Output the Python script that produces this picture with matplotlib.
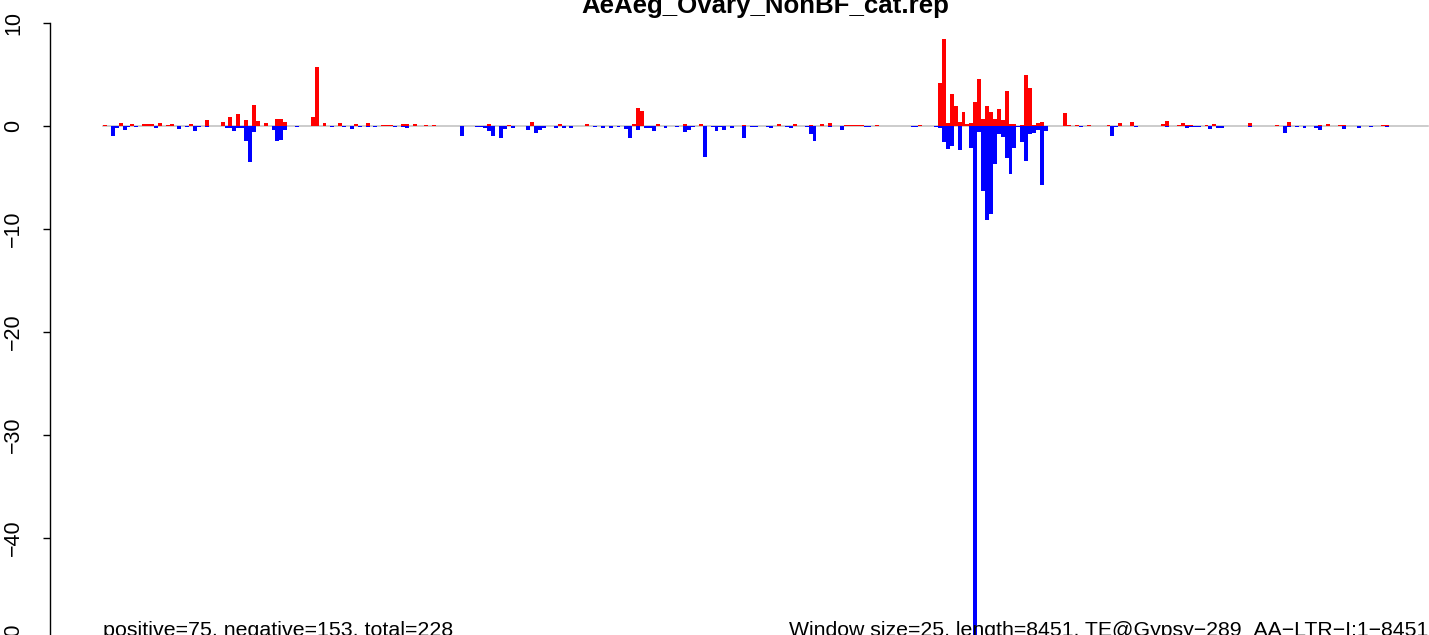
import numpy as np
import matplotlib
matplotlib.use('Agg')
import matplotlib.pyplot as plt
from matplotlib.transforms import blended_transform_factory

plt.rcParams['font.family'] = ['Liberation Sans', 'DejaVu Sans']

#####
# data: signal per 25 bp window along the TE (length 8451 -> 338 windows)
n_win = 338
title = 'AeAeg_Ovary_NonBF_cat.rep'
left_note = 'positive=75, negative=153, total=228'
right_note = 'Window size=25, length=8451, TE@Gypsy\u2212289_AA\u2212LTR\u2212I:1\u22128451'
yticks = [10, 0, -10, -20, -30, -40, -50]

# positive strand (red), window index -> value
pos_idx = [0, 4, 7, 10, 11, 12, 14, 16, 17, 22, 26, 30, 32, 34, 36, 38, 39, 41,
           44, 45, 46, 53, 54, 56, 60, 64, 67, 71, 72, 73, 76, 77, 79, 82, 84,
           98, 103, 109, 116, 123, 135, 136, 137, 141, 148, 152, 163, 172, 176,
           180, 183, 185, 189, 190, 191, 192, 193, 197, 208, 213, 214, 215, 216,
           217, 218, 219, 220, 221, 222, 223, 224, 225, 226, 227, 228, 229, 230,
           231, 232, 234, 235, 236, 237, 238, 239, 245, 246, 248, 251, 256, 259,
           262, 270, 271, 274, 275, 276, 277, 281, 283, 292, 299, 302, 310, 312,
           315, 316, 326, 327]
pos_val = [0.07, 0.26, 0.16, 0.16, 0.16, 0.16, 0.26, 0.07, 0.16, 0.16, 0.55, 0.36,
           0.84, 1.13, 0.55, 2.0, 0.45, 0.26, 0.65, 0.65, 0.36, 0.84, 5.73, 0.26,
           0.26, 0.16, 0.26, 0.05, 0.05, 0.05, 0.16, 0.16, 0.16, 0.05, 0.05, 0.16,
           0.05, 0.36, 0.16, 0.16, 0.16, 1.72, 1.42, 0.16, 0.16, 0.16, 0.05, 0.16,
           0.16, 0.05, 0.16, 0.26, 0.05, 0.05, 0.05, 0.05, 0.05, 0.05, 0.05, 4.17,
           8.4, 0.26, 3.1, 1.9, 0.36, 1.33, 0.16, 0.26, 2.3, 4.53, 0.65, 1.9, 1.33,
           0.65, 1.62, 0.55, 3.37, 0.16, 0.16, 0.07, 4.9, 3.66, 0.05, 0.26, 0.36,
           1.23, 0.05, 0.05, 0.05, 0.05, 0.26, 0.36, 0.16, 0.45, 0.05, 0.26, 0.05,
           0.05, 0.05, 0.16, 0.26, 0.05, 0.36, 0.05, 0.16, 0.05, 0.05, 0.05, 0.05]

# negative strand (blue)
neg_idx = [2, 3, 5, 6, 8, 13, 19, 21, 23, 24, 26, 31, 32, 33, 34, 35, 36, 37, 38,
           43, 44, 45, 46, 49, 58, 61, 63, 65, 67, 69, 70, 74, 76, 77, 88, 91, 92,
           93, 95, 96, 97, 98, 99, 100, 101, 102, 104, 108, 110, 111, 112, 113,
           114, 115, 117, 119, 125, 127, 129, 131, 133, 134, 136, 138, 139, 140,
           143, 146, 148, 149, 150, 153, 155, 156, 157, 158, 160, 163, 165, 166,
           169, 170, 174, 175, 178, 179, 180, 181, 185, 188, 194, 195, 202, 206,
           207, 210, 211, 212, 213, 214, 215, 216, 218, 221, 222, 223, 224, 225,
           226, 227, 228, 229, 230, 231, 232, 233, 234, 235, 236, 237, 238, 239,
           240, 243, 249, 257, 258, 263, 265, 268, 271, 276, 277, 278, 279, 282,
           284, 285, 289, 292, 293, 295, 300, 301, 302, 304, 305, 306, 308, 309,
           310, 313, 316, 318, 320, 321, 323, 327]
neg_val = [-1.0, -0.2, -0.42, -0.1, -0.08, -0.22, -0.32, -0.15, -0.5, -0.15, -0.08,
           -0.2, -0.2, -0.5, -0.2, -0.2, -1.45, -3.5, -0.6, -0.4, -1.45, -1.35,
           -0.4, -0.1, -0.1, -0.08, -0.32, -0.1, -0.1, -0.15, -0.05, -0.15, -0.15,
           -0.22, -0.05, -1.0, -0.05, -0.05, -0.1, -0.08, -0.22, -0.5, -1.0, -0.05,
           -1.2, -0.32, -0.2, -0.42, -0.7, -0.42, -0.2, -0.05, -0.05, -0.2, -0.2,
           -0.2, -0.1, -0.2, -0.2, -0.08, -0.3, -1.2, -0.4, -0.2, -0.2, -0.5, -0.2,
           -0.1, -0.6, -0.4, -0.15, -3.0, -0.1, -0.5, -0.1, -0.4, -0.2, -1.2, -0.1,
           -0.15, -0.1, -0.2, -0.1, -0.2, -0.05, -0.1, -0.78, -1.45, -0.1, -0.42,
           -0.1, -0.1, -0.05, -0.1, -0.08, -0.05, -0.05, -0.1, -0.2, -1.55, -2.23,
           -1.94, -2.33, -2.14, -52.0, -0.6, -6.3, -9.2, -8.6, -3.7, -0.78, -1.07,
           -3.1, -4.66, -2.14, -0.1, -1.55, -3.4, -0.78, -0.68, -0.39, -5.73, -0.5,
           -0.05, -0.1, -1.0, -0.1, -0.15, -0.05, -0.05, -0.1, -0.2, -0.1, -0.1,
           -0.1, -0.3, -0.2, -0.2, -0.05, -0.1, -0.05, -0.05, -0.05, -0.68, -0.1,
           -0.13, -0.05, -0.2, -0.05, -0.2, -0.4, -0.05, -0.3, -0.05, -0.2, -0.05,
           -0.1, -0.1]

pos = np.zeros(n_win)
pos[pos_idx] = pos_val
neg = np.zeros(n_win)
neg[neg_idx] = neg_val
win = np.arange(n_win)

#####
# plot (R barplot look)
W, H = 1429, 635
fig = plt.figure(figsize=(W / 100, H / 100), dpi=100)
ax = fig.add_axes([50 / W, -0.1063, 1431 / W, 1.0868])
ax.set_xlim(-0.04 * n_win, n_win * 1.04)
ax.set_ylim(-56, 11)

ax.plot([0, n_win], [0, 0], color='#BEBEBE', lw=1.1, zorder=1)
ax.bar(win, pos, width=1, align='edge', color='#FF0000', lw=0, zorder=2)
ax.bar(win, neg, width=1, align='edge', color='#0000FF', lw=0, zorder=2)

for s in ['top', 'right', 'bottom']:
    ax.spines[s].set_visible(False)
ax.spines['left'].set_bounds(-50, 10)
ax.spines['left'].set_linewidth(1.0)
ax.set_xticks([])
ax.set_yticks(yticks)
ax.set_yticklabels([str(t).replace('-', '\u2212') for t in yticks],
                   rotation=90, va='center', fontsize=15.5)
ax.tick_params(axis='y', length=5, width=1.0, pad=13.5)

tr = blended_transform_factory(ax.transData, fig.transFigure)
ax.text(n_win * 0.5, 1 - 13 / H, title, transform=tr, ha='center',
        va='baseline', fontsize=18.6, fontweight='bold', clip_on=False)
ax.text(0, -1 / H, left_note, transform=tr, ha='left', va='baseline',
        fontsize=15.4, clip_on=False)
ax.text(n_win, -1 / H, right_note, transform=tr, ha='right', va='baseline',
        fontsize=15.3, clip_on=False)

fig.savefig('out.png', dpi=100)
